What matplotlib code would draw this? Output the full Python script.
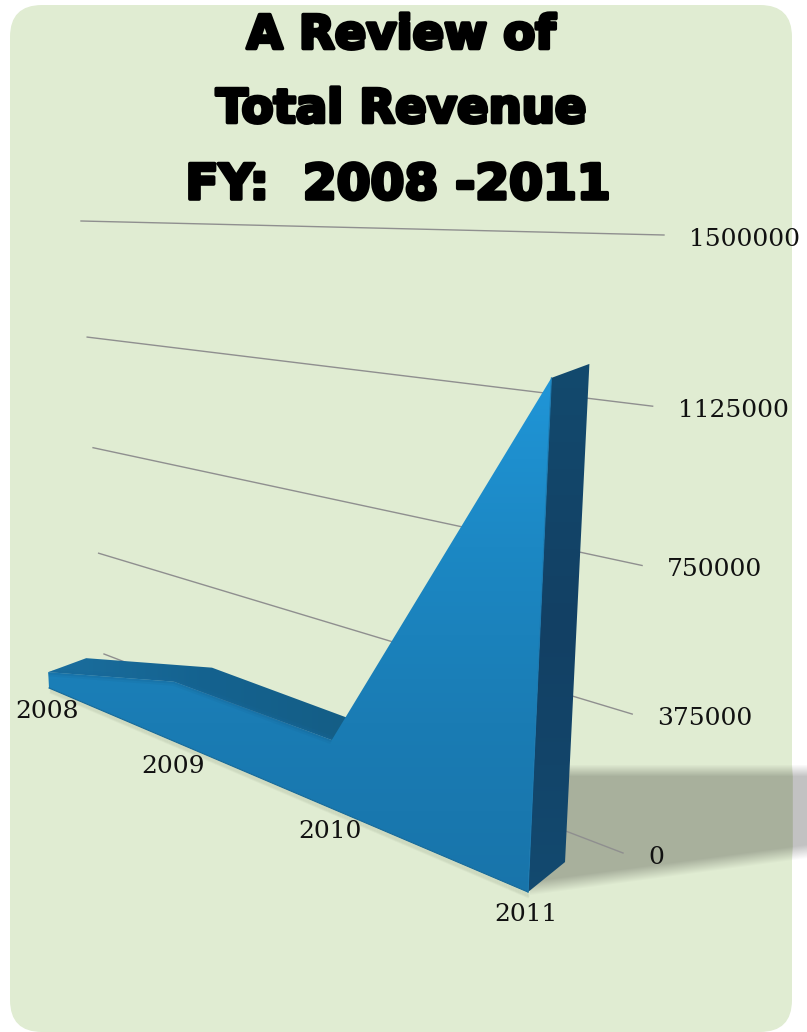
import numpy as np
import matplotlib
matplotlib.use('Agg')
import matplotlib.pyplot as plt
import matplotlib.patheffects as pe
from matplotlib.patches import FancyBboxPatch, Polygon
from matplotlib.colors import LinearSegmentedColormap

years = ['2008', '2009', '2010', '2011']
revenue = [60000, 199000, 197000, 1196000]
grid_values = [0, 375000, 750000, 1125000, 1500000]
grid_labels = ['0', '375000', '750000', '1125000', '1500000']
title_lines = ['A Review of', 'Total Revenue', 'FY:  2008 -2011']
vmax = 1500000

# the chart is a tilted 3d area, so values go through a small perspective
def rise(v, k=0.104):
    x = v / vmax
    return x * (1 - k) / (1 - k * x)

def front(t, v):
    bx = (49 + 109.3 * t) / (1 - 0.0954 * t)
    by = 688 + (bx - 49) * 0.426
    u = (bx - 49) / 479
    f = rise(v)
    return bx + f * (u * 30 - (1 - u) * 22), by - f * (440 + 220 * u)

def back(t, v):
    x, y = front(t, v)
    return x + 38, y - 14

def wall(s, v):
    fl = rise(v, 0.09)
    fr = rise(v, 0.13)
    lx, ly = 104 - 23 * fl, 654 - 433 * fl
    rx, ry = 623 + 41 * fr, 853 - 618 * fr
    return lx + (rx - lx) * s, ly + (ry - ly) * s

def grad(ax, pts, colors, extent, horizontal=True):
    cmap = LinearSegmentedColormap.from_list('g', colors)
    g = np.linspace(0, 1, 256)
    g = g.reshape(1, -1) if horizontal else g.reshape(-1, 1)
    im = ax.imshow(g, cmap=cmap, extent=extent, aspect='auto', zorder=ax.zo)
    im.set_clip_path(Polygon(pts, closed=True, transform=ax.transData))
    ax.zo += 1

fig = plt.figure(figsize=(8.07, 10.32), dpi=100, facecolor='white')
ax = fig.add_axes([0, 0, 1, 1])
ax.zo = 5
ax.axis('off')

panel = FancyBboxPatch((10, 5), 782, 1027, boxstyle='round,pad=0,rounding_size=32',
                       fc='#e0ecd2', ec='none', zorder=1)
ax.add_patch(panel)

# shadow on the right, soft edges, runs out past the panel
yy, xx = np.mgrid[740:900, 530:807]
top_edge = 770 + 0 * xx
low_edge = 888 - (xx - 530) * (888 - 853) / 262
a = np.clip((yy - top_edge) / 12 + 0.5, 0, 1) * np.clip((low_edge - yy) / 14 + 0.5, 0, 1)
rgba = np.zeros(a.shape + (4,))
rgba[..., :3] = (0.62, 0.65, 0.58)
rgba[..., 3] = a * 0.85
rgba[xx > 792, :3] = (0.72, 0.72, 0.72)
ax.imshow(rgba, extent=(530, 807, 900, 740), aspect='auto', zorder=2, interpolation='bilinear')

for v, lab in zip(grid_values, grid_labels):
    x0, y0 = wall(0, v)
    x1, y1 = wall(1, v)
    ax.plot([x0, x1], [y0, y1], color='#8f8f8f', lw=1.0, zorder=3)
    ax.text(x1 + 25, y1 + 4, lab, family='DejaVu Serif', fontsize=18, color='#111111',
            ha='left', va='center', zorder=20)

# soft shadow along the bottom edge
for i in range(1, 6):
    ax.plot([front(0, 0)[0] + 2, front(3, 0)[0]], [front(0, 0)[1] + i, front(3, 0)[1] + i],
            color='#4a5a40', alpha=0.05, lw=1.5, zorder=4)

ts = np.arange(len(years))
f_top = [front(t, v) for t, v in zip(ts, revenue)]
b_top = [back(t, v) for t, v in zip(ts, revenue)]
f_base = [front(t, 0) for t in ts]

# top surface goes first, the front face covers the part that is hidden
grad(ax, f_top[:3] + b_top[:3][::-1], ['#1b6f9f', '#14628f', '#155d84'], (40, 380, 760, 650))

bx, by = f_base[-1]
side = [f_top[3], b_top[3], (bx + 37, by - 30), (bx, by)]
grad(ax, side, ['#134a6e', '#124064', '#134a70'], (520, 600, 900, 360), horizontal=False)

front_poly = f_top + f_base[::-1]
grad(ax, front_poly, ['#2096d8', '#1c88c4', '#1a7cb4', '#1874aa'], (40, 560, 900, 370), horizontal=False)

# edge between top and front is blurred in the picture
area_clip = Polygon(b_top[:3] + f_top[2:] + f_base[::-1] + f_top[:1], closed=True, transform=ax.transData)
tx, ty = zip(*f_top[:3])
for lw, al in [(6, 0.18), (3, 0.3)]:
    ln, = ax.plot(tx, ty, color='#17689a', lw=lw, alpha=al, zorder=ax.zo, solid_capstyle='butt')
    ln.set_clip_path(area_clip)
ax.plot([f_top[3][0], bx], [f_top[3][1], by], color='#1b7ab2', lw=0.8, zorder=ax.zo)
ax.plot([f_base[0][0], bx], [f_base[0][1], by], color='#176a99', lw=0.8, zorder=ax.zo)

label_off = [(-2, 24), (-2, 25), (-1, 23), (-2, 22)]
for t, lab, off in zip(ts, years, label_off):
    x, y = f_base[t]
    ax.text(x + off[0], y + off[1], lab, family='DejaVu Serif', fontsize=18, color='#111111',
            ha='center', va='center', zorder=20)

title_y = [36, 110, 185]
title_x = [401, 401, 398]
title_size = [33.5, 33.5, 35]
for s, x, y, fs in zip(title_lines, title_x, title_y, title_size):
    ax.text(x, y, s, family='DejaVu Sans', weight='bold', fontsize=fs, color='black',
            ha='center', va='center', zorder=20,
            path_effects=[pe.withStroke(linewidth=2.6, foreground='black')])

ax.set_xlim(0, 807)
ax.set_ylim(1032, 0)
fig.savefig('out.png', dpi=100, facecolor='white')
